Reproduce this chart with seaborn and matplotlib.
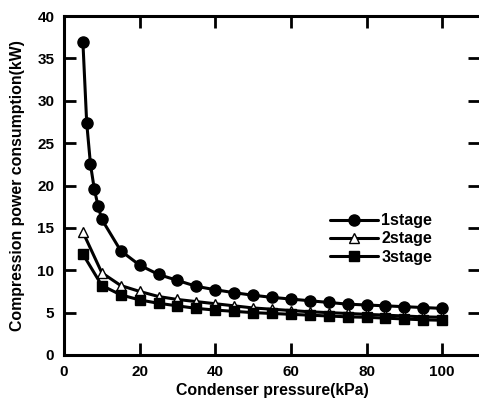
import pandas as pd
import matplotlib
matplotlib.use("Agg")
import matplotlib.pyplot as plt
import seaborn as sns

# --- data ---
pressure_1 = [5, 6, 7, 8, 9, 10, 15, 20, 25, 30, 35, 40, 45, 50, 55, 60, 65, 70,
              75, 80, 85, 90, 95, 100]
power_1 = [36.9, 27.4, 22.5, 19.6, 17.6, 16.0, 12.3, 10.6, 9.5, 8.8, 8.1, 7.7,
           7.35, 7.05, 6.8, 6.6, 6.4, 6.2, 6.0, 5.9, 5.8, 5.7, 5.6, 5.5]
pressure_23 = [5, 10, 15, 20, 25, 30, 35, 40, 45, 50, 55, 60, 65, 70, 75, 80,
               85, 90, 95, 100]
power_2 = [14.5, 9.7, 8.2, 7.5, 6.9, 6.55, 6.3, 6.05, 5.8, 5.55, 5.4, 5.25,
           5.1, 5.0, 4.9, 4.8, 4.7, 4.6, 4.5, 4.45]
power_3 = [11.9, 8.2, 7.1, 6.5, 6.1, 5.8, 5.5, 5.3, 5.15, 5.0, 4.9, 4.8, 4.7,
           4.6, 4.5, 4.45, 4.35, 4.25, 4.15, 4.1]
series_names = ["1stage", "2stage", "3stage"]
x_ticks = [0, 20, 40, 60, 80, 100]
y_ticks = [0, 5, 10, 15, 20, 25, 30, 35, 40]

df = pd.concat([
    pd.DataFrame({"p": pressure_1, "w": power_1, "s": series_names[0]}),
    pd.DataFrame({"p": pressure_23, "w": power_2, "s": series_names[1]}),
    pd.DataFrame({"p": pressure_23, "w": power_3, "s": series_names[2]}),
])

sns.set_style("ticks", {"axes.edgecolor": "black", "xtick.color": "black",
                        "ytick.color": "black", "text.color": "black",
                        "axes.labelcolor": "black"})
plt.rcParams["font.family"] = ["Liberation Sans", "DejaVu Sans"]
plt.rcParams["font.weight"] = "bold"

fig = plt.figure(figsize=(4.79, 4.01), dpi=100)
# right edge of the axes sits just past the picture edge, as in the original
ax = fig.add_axes([64 / 479, 46 / 401, 416 / 479, 339 / 401])

styles = {
    "1stage": dict(marker="o", markersize=8, mfc="black"),
    "2stage": dict(marker="^", markersize=7, mfc="white"),
    "3stage": dict(marker="s", markersize=6.5, mfc="black"),
}
for name in series_names:
    sub = df[df["s"] == name]
    sns.lineplot(data=sub, x="p", y="w", ax=ax, color="black", linewidth=2.2,
                 mec="black", mew=1.0, label=name, **styles[name])

ax.set_xlim(0, 110)
ax.set_ylim(0, 40)
ax.set_xticks(x_ticks)
ax.set_yticks(y_ticks)
ax.tick_params(axis="both", direction="in", length=8.5, width=2.0, labelsize=11,
               colors="black", top=True, right=True, pad=7)
for lab in ax.get_xticklabels() + ax.get_yticklabels():
    lab.set_fontweight("bold")
for sp in ax.spines.values():
    sp.set_linewidth(2.2)
    sp.set_color("black")
ax.spines["right"].set_visible(False)

ax.set_xlabel("Condenser pressure(kPa)", fontsize=11.4, fontweight="bold",
              color="black", labelpad=3)
ax.set_ylabel("Compression power consumption(kW)", fontsize=11.4, fontweight="bold",
              color="black")
ax.yaxis.set_label_coords(-0.094, 0.5)

leg = ax.legend(loc="center left", bbox_to_anchor=(330 / 479, (401 - 239) / 401),
                bbox_transform=fig.transFigure, frameon=False, borderpad=0,
                borderaxespad=0, handlelength=3.0, handletextpad=0.2,
                labelspacing=0.2, prop={"size": 11.5, "weight": "bold"})
for t in leg.get_texts():
    t.set_color("black")

fig.savefig("out.png", dpi=100)
